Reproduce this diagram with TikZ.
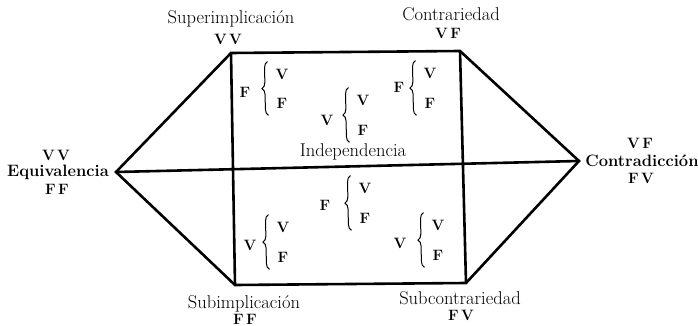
\documentclass[tikz,border=0pt]{standalone}
\usepackage{fontspec}
\usetikzlibrary{decorations.pathreplacing}

\begin{document}
\begin{tikzpicture}[x=1pt, y=-1pt,
    lbl/.style={font=\fontsize{18.5}{21}\selectfont, inner sep=1pt},
    blbl/.style={font=\fontsize{16.5}{19}\selectfont\bfseries, inner sep=1pt},
    tv/.style={font=\fontsize{15}{17}\selectfont\bfseries, inner sep=1pt},
    brc/.style={decorate, decoration={brace, amplitude=6pt}, line width=1pt},
    side/.style={line width=2.6pt}
  ]
  \useasboundingbox (0,0) rectangle (698,326);

  %% --- Vertices ---
  \coordinate (equ)   at (116,172);
  \coordinate (sup)   at (231,53);
  \coordinate (con)   at (460,51);
  \coordinate (contr) at (579,161);
  \coordinate (subc)  at (466,283);
  \coordinate (subi)  at (235,285);
  % Outline and inner lines
  \draw[side] (equ) -- (sup) -- (con) -- (contr) -- (subc) -- (subi) -- cycle;
  \draw[side] (equ) -- (contr);
  \draw[side] (sup) -- (subi);
  \draw[side] (con) -- (subc);

  %% --- Vertex labels ---
  \node[lbl] (supn) at (231,19) {Superimplicación};
  \node[tv]  (supv) at (228,39) {V\,V};
  \node[lbl] (conn) at (451,14) {Contrariedad};
  \node[tv]  (conv) at (448,33) {V\,F};
  \node[tv]   (equa) at (56,155) {V\,V};
  \node[blbl] (equn) at (58,172) {Equivalencia};
  \node[tv]   (equb) at (57,189) {F\,F};
  \node[tv]   (cona) at (640,143) {V\,F};
  \node[blbl] (ctrn) at (642,161) {Contradicción};
  \node[tv]   (conb) at (641,178) {F\,V};
  \node[lbl] (subin) at (244,304) {Subimplicación};
  \node[tv]  (subiv) at (245,319) {F\,F};
  \node[lbl] (subcn) at (460,298) {Subcontrariedad};
  \node[tv]  (subcv) at (461,315) {F\,V};
  \node[lbl] (indep) at (353,152) {Independencia};

  %% --- Branches (upper half) ---
  \node[tv] (a1) at (245,92)  {F};
  \node[tv] (b1) at (282,74)  {V};
  \node[tv] (c1) at (282,103) {F};
  \node[tv] (a2) at (327,120) {V};
  \node[tv] (b2) at (363,100) {V};
  \node[tv] (c2) at (363,130) {F};
  \node[tv] (a3) at (399,87)  {F};
  \node[tv] (b3) at (430,73)  {V};
  \node[tv] (c3) at (430,103) {F};
  %% --- Branches (lower half) ---
  \node[tv] (a4) at (325,205) {F};
  \node[tv] (b4) at (365,188) {V};
  \node[tv] (c4) at (365,218) {F};
  \node[tv] (a5) at (250,245) {V};
  \node[tv] (b5) at (283,227) {V};
  \node[tv] (c5) at (283,257) {F};
  \node[tv] (a6) at (400,243) {V};
  \node[tv] (b6) at (438,225) {V};
  \node[tv] (c6) at (438,255) {F};
  % Braces
  \foreach \i in {1,...,6} {
    \draw[brc] ([shift={(-7pt,-6pt)}]c\i.south west) -- ([shift={(-7pt,6pt)}]b\i.north west);
  }
\end{tikzpicture}
\end{document}
